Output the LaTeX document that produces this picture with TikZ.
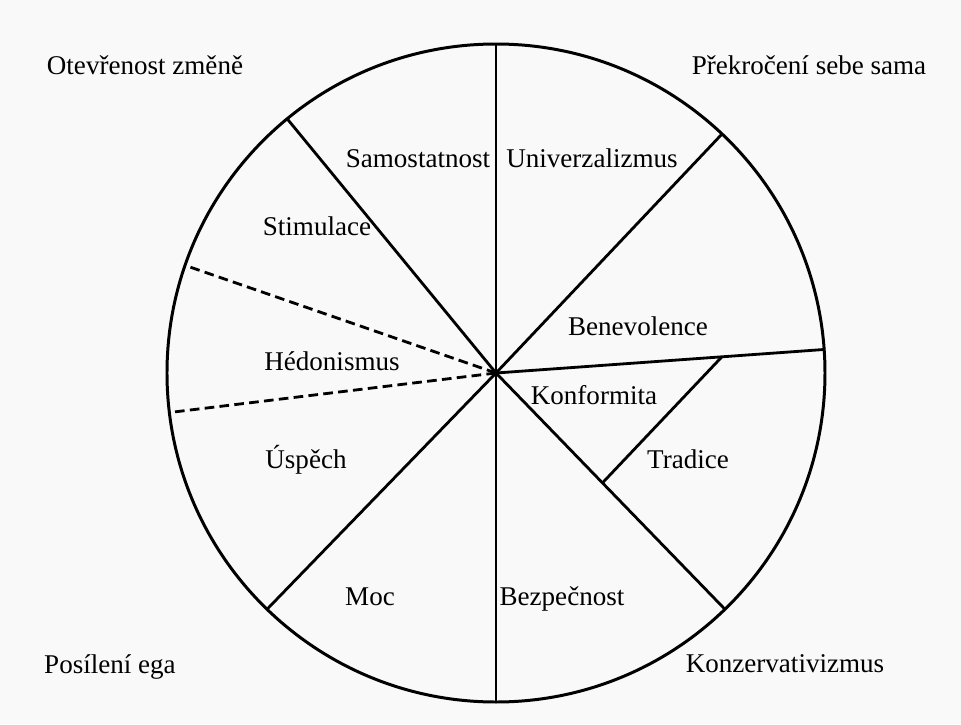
\documentclass[tikz,border=0pt]{standalone}
\usepackage{fontspec}
\setmainfont{Liberation Serif}

\begin{document}
\begin{tikzpicture}[
    lbl/.style={font=\fontsize{15.4}{18}\selectfont, inner sep=0pt, text height=0.72em, text depth=0.22em},
    rim/.style={line width=1.7pt},
    ray/.style={line width=1.6pt},
    dashray/.style={line width=1.6pt, dash pattern=on 5.5pt off 3pt}
]

% Page
\useasboundingbox[fill=gray!5] (-9.92,-7.02) rectangle (9.30,7.46);

% Circle
\coordinate (c) at (0,0);
\draw[rim] (c) circle (6.58);

% Points on the rim
\coordinate (top) at (90:6.58);
\coordinate (bot) at (270:6.58);
\coordinate (ul) at (129.4:6.58);
\coordinate (ur) at (46.6:6.58);
\coordinate (re) at (4.1:6.58);
\coordinate (lr) at (-45.9:6.58);
\coordinate (ll) at (-134.1:6.58);
\coordinate (dup) at (160.9:6.58);
\coordinate (ddn) at (186.9:6.58);

% Inner chord between Konformita and Tradice
\coordinate (tr1) at (4.1:4.53);
\coordinate (tr2) at (-45.9:3.06);

% Rays
\draw[ray] (top) -- (bot);
\draw[ray] (c) -- (ul);
\draw[ray] (c) -- (ur);
\draw[ray] (c) -- (re);
\draw[ray] (c) -- (lr);
\draw[ray] (c) -- (ll);
\draw[ray] (tr1) -- (tr2);
\draw[dashray] (c) -- (dup);
\draw[dashray] (c) -- (ddn);

% Corner labels
\node[lbl] (open) at (-7.02,6.06) {Otevřenost změně};
\node[lbl] (trans) at (6.26,6.06) {Překročení sebe sama};
\node[lbl] (enh) at (-7.72,-5.92) {Posílení ega};
\node[lbl] (cons) at (5.78,-5.90) {Konzervativizmus};

% Value labels
\node[lbl] (samo) at (-1.56,4.20) {Samostatnost};
\node[lbl] (univ) at (1.92,4.20) {Univerzalizmus};
\node[lbl] (stim) at (-3.58,2.84) {Stimulace};
\node[lbl] (bene) at (2.84,0.84) {Benevolence};
\node[lbl] (hedo) at (-3.28,0.14) {Hédonismus};
\node[lbl] (konf) at (1.96,-0.54) {Konformita};
\node[lbl] (uspe) at (-3.80,-1.82) {Úspěch};
\node[lbl] (trad) at (3.84,-1.82) {Tradice};
\node[lbl] (moc) at (-2.52,-4.56) {Moc};
\node[lbl] (bezp) at (1.32,-4.56) {Bezpečnost};

\end{tikzpicture}
\end{document}
